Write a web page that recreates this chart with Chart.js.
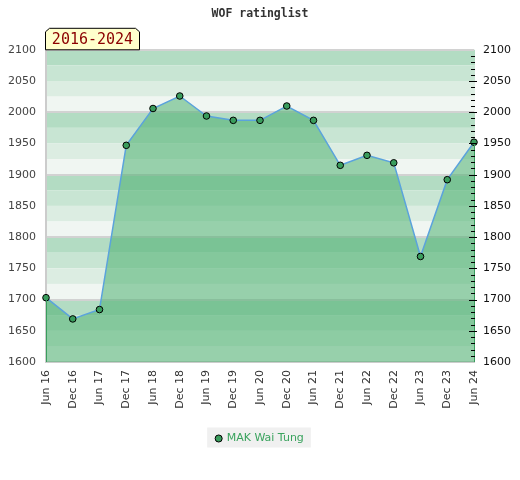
<!DOCTYPE html>
<html>
  <body style="margin: 0; background: #fff">
    <div style="width: 520px; height: 480px">
      <canvas id="ratingChart" width="520" height="480"></canvas>
    </div>

    <script src="https://cdn.jsdelivr.net/npm/chart.js"></script>

    <script>
      const periods = [
        "Jun 16", "Dec 16", "Jun 17", "Dec 17", "Jun 18", "Dec 18",
        "Jun 19", "Dec 19", "Jun 20", "Dec 20", "Jun 21", "Dec 21",
        "Jun 22", "Dec 22", "Jun 23", "Dec 23", "Jun 24",
      ];
      const ratings = [
        1703, 1669, 1684, 1947, 2006, 2026, 1994, 1987, 1987, 2010, 1987,
        1915, 1931, 1919, 1769, 1892, 1952,
      ];
      const playerName = "MAK Wai Tung";
      const rangeLabel = "2016-2024";
      const yMin = 1600;
      const yMax = 2100;

      const stripeColors = ["#b3dcc3", "#c8e5d3", "#dcede2", "#f0f6f2"];

      // stripes behind everything, yellow period box, legend background, minor ticks
      const decorPlugin = {
        id: "decor",
        beforeDraw(chart) {
          const c = chart.ctx;
          const a = chart.chartArea;
          const y = chart.scales.y;
          c.save();
          for (let v = yMax; v > yMin; v -= 25) {
            const idx = ((yMax - v) / 25) % 4;
            const top = y.getPixelForValue(v);
            const bot = y.getPixelForValue(v - 25);
            c.fillStyle = stripeColors[idx];
            c.fillRect(a.left - 1, top, a.right - a.left + 2, bot - top);
          }
          const box = chart.legend.legendHitBoxes[0];
          if (box) {
            c.fillStyle = "#f0f0f0";
            c.fillRect(box.left - 9, box.top + box.height / 2 - 11, box.width + 16, 20);
          }
          c.restore();
        },
        afterDatasetsDraw(chart) {
          const c = chart.ctx;
          const pts = chart.getDatasetMeta(0).data;
          const a = chart.chartArea;
          const y = chart.scales.y;
          c.save();
          c.strokeStyle = "#3a9d5d";
          c.lineWidth = 1;
          [pts[0], pts[pts.length - 1]].forEach((p) => {
            c.beginPath();
            c.moveTo(Math.round(p.x) + 0.5, p.y);
            c.lineTo(Math.round(p.x) + 0.5, a.bottom);
            c.stroke();
          });
          // right-hand tick marks every 10 points
          c.strokeStyle = "#000";
          for (let v = yMin + 10; v < yMax; v += 10) {
            const py = Math.round(y.getPixelForValue(v)) + 0.5;
            const major = v % 50 === 0;
            c.lineWidth = 1;
            c.beginPath();
            c.moveTo(a.right - (major ? 5 : 3), py);
            c.lineTo(a.right + (major ? 3 : 1), py);
            c.stroke();
          }
          c.restore();
        },
        afterDraw(chart) {
          const c = chart.ctx;
          const l = chart.chartArea.left - 1;
          const r = l + 95;
          const b = chart.chartArea.top;
          const t = b - 22;
          c.save();
          c.beginPath();
          c.moveTo(l + 0.5, b);
          c.lineTo(l + 0.5, t + 4);
          c.lineTo(l + 4.5, t + 0.5);
          c.lineTo(r - 4.5, t + 0.5);
          c.lineTo(r - 0.5, t + 4);
          c.lineTo(r - 0.5, b);
          c.closePath();
          c.fillStyle = "#ffffcc";
          c.fill();
          c.strokeStyle = "#000";
          c.lineWidth = 1;
          c.stroke();
          c.fillStyle = "#8b0000";
          c.font = "15px 'DejaVu Sans Mono'";
          c.textAlign = "center";
          c.textBaseline = "middle";
          c.fillText(rangeLabel, (l + r) / 2, t + 12);
          c.restore();
        },
      };

      const data = {
        labels: periods,
        datasets: [
          {
            label: playerName,
            data: ratings,
            borderColor: "#5ba3dc",
            borderWidth: 1.5,
            backgroundColor: "rgba(72, 174, 107, 0.53)",
            fill: "start",
            tension: 0,
            pointRadius: 3.3,
            pointHoverRadius: 3.3,
            pointBackgroundColor: "#3a9d5d",
            pointBorderColor: "#000",
            pointBorderWidth: 1,
          },
        ],
      };

      const config = {
        type: "line",
        data: data,
        options: {
          responsive: false,
          animation: false,
          layout: { padding: { left: 0, right: 0, top: 0, bottom: 26 } },
          scales: {
            x: {
              offset: false,
              grid: { display: false, drawTicks: false },
              border: { color: "#cccccc", width: 2 },
              ticks: {
                color: "#333",
                font: { family: "DejaVu Sans", size: 11 },
                minRotation: 90,
                maxRotation: 90,
                autoSkip: false,
                padding: 8,
              },
              afterFit(scale) {
                scale.height = 61;
              },
            },
            y: {
              min: yMin,
              max: yMax,
              ticks: {
                stepSize: 50,
                color: "#444",
                font: { family: "DejaVu Sans", size: 11 },
                padding: 10,
                callback: (v) => String(v),
              },
              grid: {
                drawTicks: false,
                lineWidth: 2,
                color: (ctx) =>
                  ctx.tick && ctx.tick.value % 100 === 0 ? "#d2d2d2" : "rgba(0,0,0,0)",
              },
              border: { color: "#cccccc", width: 2 },
              afterFit(scale) {
                scale.width = 46;
              },
            },
            y2: {
              position: "right",
              min: yMin,
              max: yMax,
              ticks: {
                stepSize: 50,
                color: "#111",
                font: { family: "DejaVu Sans", size: 11 },
                padding: 9,
                callback: (v) => String(v),
              },
              grid: { display: false, drawTicks: false, drawOnChartArea: false },
              border: { display: false },
              afterFit(scale) {
                scale.width = 46;
              },
            },
          },
          plugins: {
            title: {
              display: true,
              text: "WOF ratinglist",
              color: "#333",
              font: { family: "DejaVu Sans Mono", size: 11.5, weight: "bold", lineHeight: 1.2 },
              padding: { top: 7, bottom: 29 },
            },
            legend: {
              position: "bottom",
              labels: {
                usePointStyle: true,
                boxWidth: 5,
                boxHeight: 5,
                padding: 10,
                color: "#3aa35e",
                font: { family: "DejaVu Sans", size: 11 },
                generateLabels: (chart) => [
                  {
                    text: playerName,
                    fillStyle: "#3a9d5d",
                    strokeStyle: "#000",
                    lineWidth: 1,
                    pointStyle: "circle",
                    fontColor: "#3aa35e",
                    datasetIndex: 0,
                  },
                ],
              },
            },
            tooltip: { enabled: false },
          },
        },
        plugins: [decorPlugin],
      };

      new Chart(document.getElementById("ratingChart"), config);
    </script>
  </body>
</html>
